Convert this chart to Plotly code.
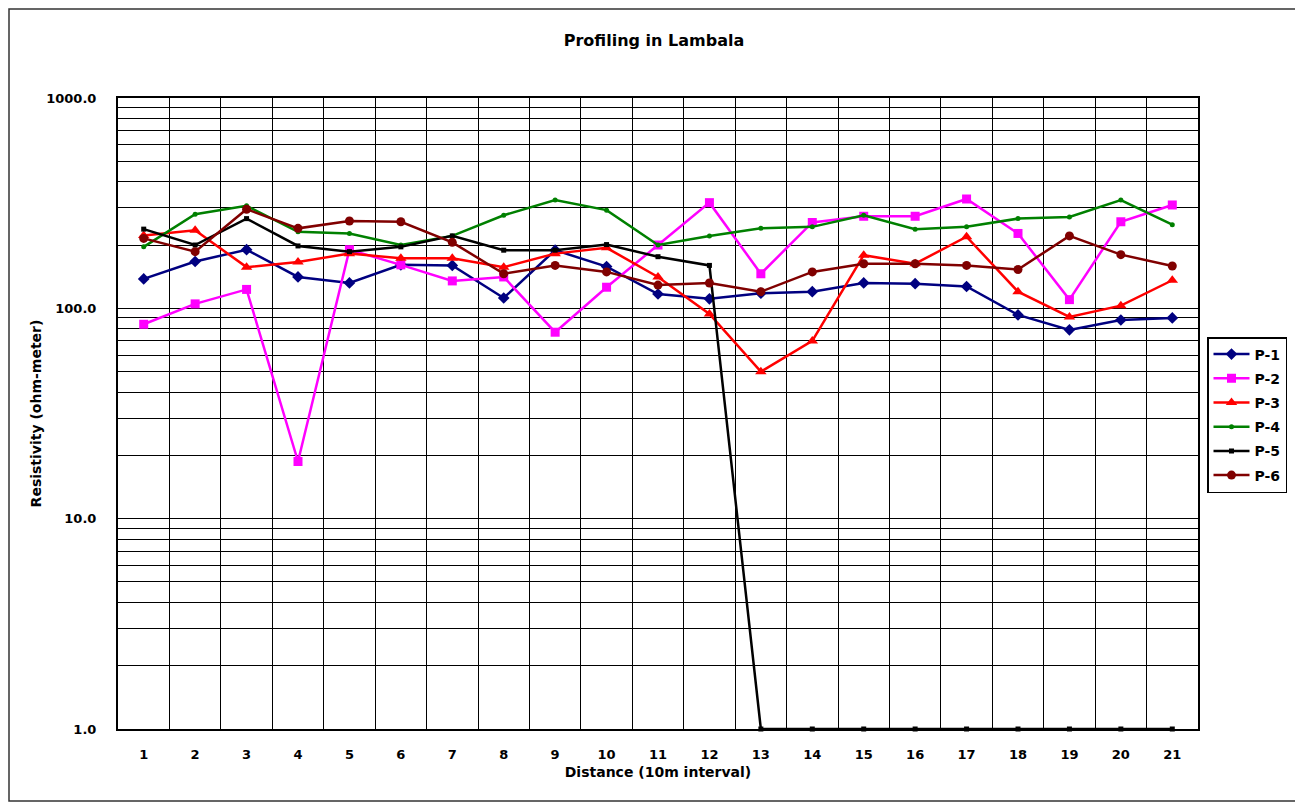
import plotly.graph_objects as go

distance = [str(i) for i in range(1, 22)]

p1 = [138, 167, 190, 141, 132, 161, 160, 112, 189, 158, 117, 111, 118, 120, 132, 131, 127, 93, 79, 88, 90]
p2 = [84, 105, 123, 18.7, 190, 161, 135, 141, 77, 126, 200, 318, 146, 256, 274, 274, 331, 227, 110, 258, 310]
p3 = [222, 235, 157, 166, 182, 173, 173, 157, 182, 194, 141, 94, 50, 70, 179, 163, 219, 120, 91, 103, 136]
p4 = [196, 280, 307, 231, 227, 200, 221, 277, 327, 293, 200, 221, 240, 244, 277, 238, 244, 267, 272, 327, 250]
p5 = [238, 200, 267, 198, 186, 196, 221, 189, 189, 201, 176, 160, 1, 1, 1, 1, 1, 1, 1, 1, 1]
p6 = [215, 186, 296, 240, 260, 258, 206, 146, 160, 149, 129, 132, 120, 149, 163, 163, 160, 153, 221, 180, 159]

series = [
    ("P-1", p1, "#000080", "diamond", 9),
    ("P-2", p2, "#FF00FF", "square", 9),
    ("P-3", p3, "#FF0000", "triangle-up", 10),
    ("P-4", p4, "#008000", "circle", 5),
    ("P-5", p5, "#000000", "square", 5),
    ("P-6", p6, "#800000", "circle", 9),
]

y_major = [1, 10, 100, 1000]
y_major_text = ["1.0", "10.0", "100.0", "1000.0"]
y_minor = [m * d for d in (1, 10, 100) for m in range(2, 10)]

FONT = "DejaVu Sans, Arial, sans-serif"

fig = go.Figure()
for name, vals, color, sym, size in series:
    fig.add_trace(go.Scatter(
        x=distance, y=vals, name=name, mode="lines+markers", legendgroup=name,
        line=dict(color=color, width=2.5),
        marker=dict(symbol=sym, size=size, color=color),
        cliponaxis=False,
    ))

# the page body adds an 8px offset
OFF = 8
W, H = 1303 - OFF, 803 - OFF
L, R, T, B = 118 - OFF, 1198 - OFF, 98 - OFF, 729 - OFF
pw, ph = R - L, B - T

fig.update_layout(
    width=W, height=H,
    margin=dict(l=L, r=W - R, t=T, b=H - B, autoexpand=False),
    paper_bgcolor="white", plot_bgcolor="white",
    font=dict(family=FONT, size=13, color="black", weight="bold"),
    title=dict(text="Profiling in Lambala", x=(654 - OFF - L) / pw, xref="paper", xanchor="center",
               y=1 - (40 - OFF) / H, yanchor="middle",
               font=dict(size=16, color="black", weight="bold")),
    showlegend=True,
    legend=dict(x=(1207 - OFF - L) / pw, xanchor="left", y=(B - (337 - OFF)) / ph, yanchor="top",
                bordercolor="black", borderwidth=1.5, bgcolor="white",
                font=dict(size=14, weight="bold"), tracegroupgap=3, itemwidth=36),
    shapes=[dict(type="rect", xref="paper", yref="paper",
                 x0=(1 - L) / pw, x1=(1300 - OFF - L) / pw,
                 y0=(B - (801 - OFF)) / ph, y1=(B - 1) / ph,
                 line=dict(color="#333333", width=1.5), layer="below")],
)

fig.update_xaxes(
    type="category", range=[-0.5, 20.5], autorange=False,
    tickson="boundaries", showgrid=True, gridcolor="black", gridwidth=1.2,
    showline=True, linecolor="black", linewidth=2, mirror=True,
    ticks="", ticklabelstandoff=12, tickfont=dict(size=13, weight="bold"), automargin=False,
    title=dict(text="Distance (10m interval)", font=dict(size=14, weight="bold"), standoff=7),
    zeroline=False,
)
fig.update_yaxes(
    type="log", range=[0, 3], autorange=False,
    tickmode="array", tickvals=y_major, ticktext=y_major_text,
    showgrid=True, gridcolor="black", gridwidth=1.3,
    minor=dict(tickmode="array", tickvals=y_minor, showgrid=True, gridcolor="black", gridwidth=1, ticks=""),
    showline=True, linecolor="black", linewidth=2, mirror=True,
    ticks="", ticklabelstandoff=17, tickfont=dict(size=13, weight="bold"), automargin=False,
    title=dict(text="Resistivity (ohm-meter)", font=dict(size=14, weight="bold"), standoff=1),
    zeroline=False,
)

fig.write_html("out.html")
